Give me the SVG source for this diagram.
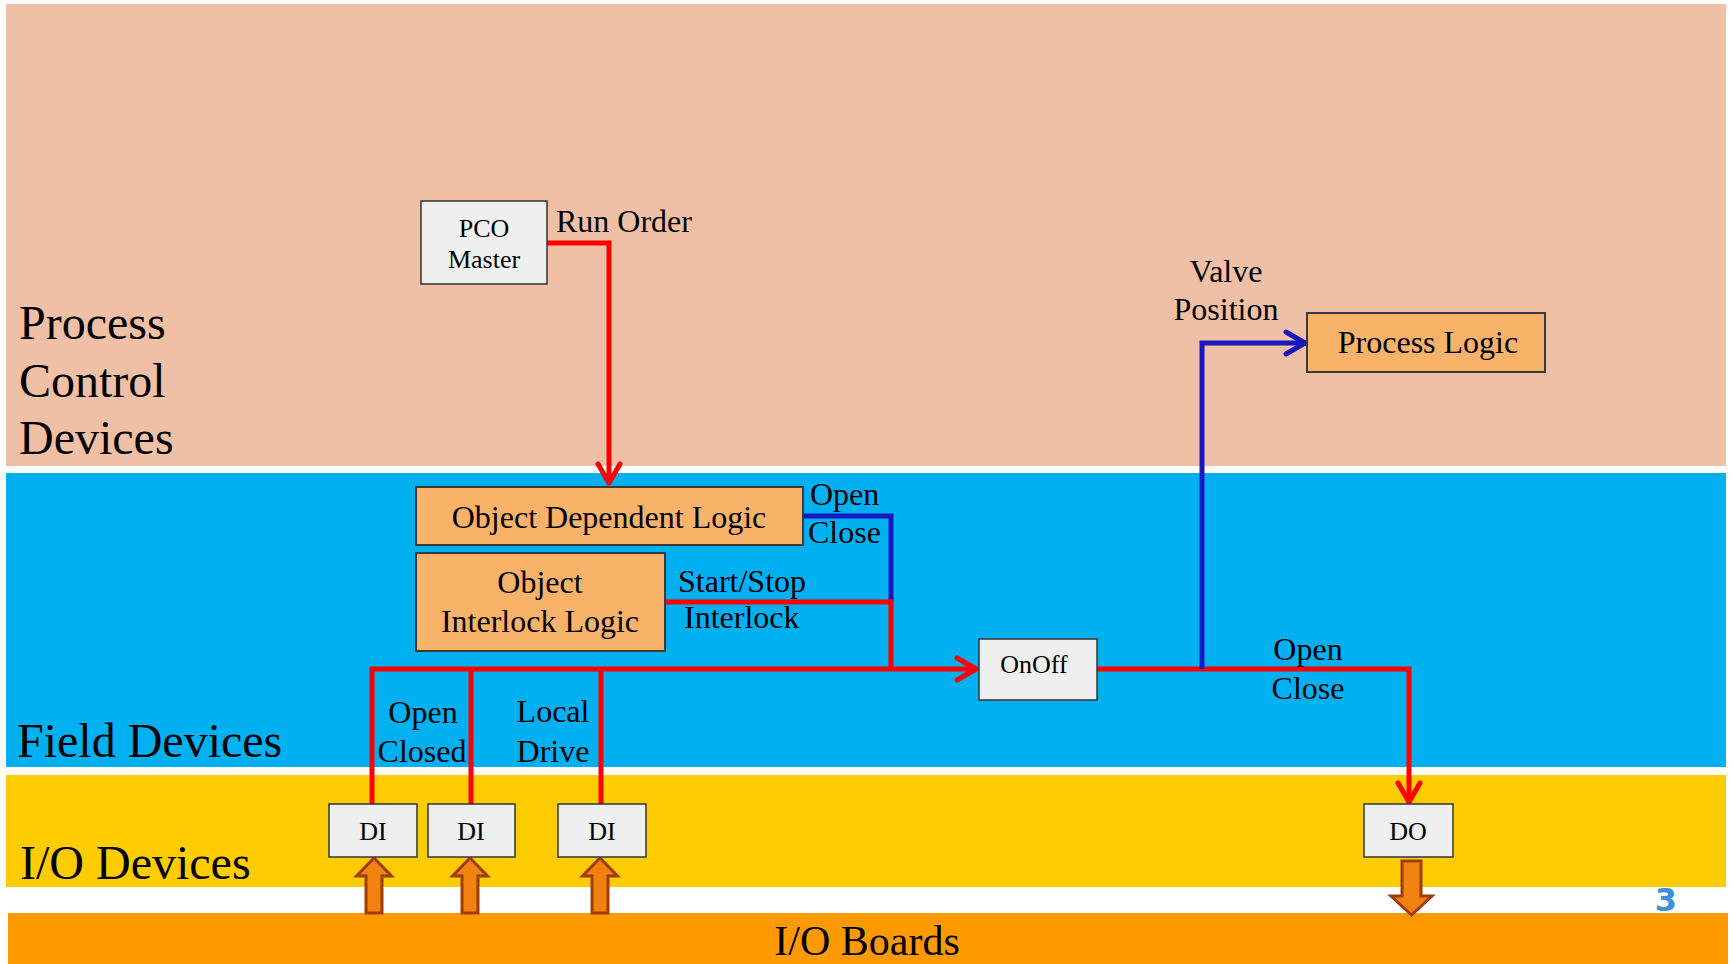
<svg xmlns="http://www.w3.org/2000/svg" width="1733" height="964" viewBox="0 0 1733 964">
<defs>
<style>
text{font-family:"Liberation Serif","Times New Roman",serif;fill:#000}
.band{stroke:none}
.gbox{fill:#efefef;stroke:#333;stroke-width:1.5}
.obox{fill:#f9b26a;stroke:#3a3a3a;stroke-width:2}
.t26{font-size:26px}
.t32{font-size:32px}
.big{font-size:48px}
.mid{text-anchor:middle}
.red{fill:none;stroke:#ff0000;stroke-width:5;stroke-linejoin:miter}
.blue{fill:none;stroke:#1818c0;stroke-width:5;stroke-linejoin:miter}
.blk{fill:#f0820f;stroke:#a03c0a;stroke-width:3}
</style>
<marker id="arR" viewBox="-24 -14 28 28" refX="0" refY="0" markerWidth="28" markerHeight="28" markerUnits="userSpaceOnUse" orient="auto">
<path d="M-20,-11 L-1,0 L-20,11" fill="none" stroke="#ff0000" stroke-width="5" stroke-linecap="round" stroke-linejoin="round"/>
</marker>
<marker id="arB" viewBox="-24 -14 28 28" refX="0" refY="0" markerWidth="28" markerHeight="28" markerUnits="userSpaceOnUse" orient="auto">
<path d="M-20,-11 L-1,0 L-20,11" fill="none" stroke="#1818c0" stroke-width="5" stroke-linecap="round" stroke-linejoin="round"/>
</marker>
</defs>
<rect width="1733" height="964" fill="#ffffff"/>
<g id="bands">
<rect class="band" x="6" y="4" width="1720" height="462" fill="#efc0a6"/>
<rect class="band" x="6" y="473" width="1720" height="294" fill="#00b0f0"/>
<rect class="band" x="6" y="775" width="1720" height="112" fill="#ffcc00"/>
<rect class="band" x="8" y="913" width="1720" height="51" fill="#ff9900"/>
<text class="big" x="19" y="339">Process</text>
<text class="big" x="19" y="397">Control</text>
<text class="big" x="19" y="454">Devices</text>
<text class="big" x="17" y="757">Field Devices</text>
<text class="big" x="20" y="879">I/O Devices</text>
<text class="mid" x="867" y="955" style="font-size:42px">I/O Boards</text>
<text x="1666" y="911" style="font-family:'DejaVu Sans',sans-serif;font-size:32px;font-weight:bold;fill:#3d8fd8;text-anchor:middle">3</text>
</g>
<g id="connectors">
<polyline class="red" points="547,243 609,243 609,484" marker-end="url(#arR)"/>
<polyline class="blue" points="803,516 891,516 891,602"/>
<polyline class="red" points="665,602 891,602 891,669"/>
<polyline class="red" points="372,804 372,669 977,669" marker-end="url(#arR)"/>
<line class="red" x1="471" y1="669" x2="471" y2="804"/>
<line class="red" x1="601" y1="669" x2="601" y2="804"/>
<polyline class="red" points="1097,669 1409,669 1409,803" marker-end="url(#arR)"/>
<polyline class="blue" points="1202,669 1202,343 1306,343" marker-end="url(#arB)"/>
<text class="t32" x="556" y="232">Run Order</text>
<text class="t32" x="810" y="505">Open</text>
<text class="t32" x="808" y="543">Close</text>
<text class="t32" x="678" y="592">Start/Stop</text>
<text class="t32" x="684" y="628">Interlock</text>
<text class="t32 mid" x="423" y="723">Open</text>
<text class="t32 mid" x="422" y="762">Closed</text>
<text class="t32 mid" x="553" y="722">Local</text>
<text class="t32 mid" x="553" y="762">Drive</text>
<text class="t32 mid" x="1226" y="282">Valve</text>
<text class="t32 mid" x="1226" y="320">Position</text>
<text class="t32 mid" x="1308" y="660">Open</text>
<text class="t32 mid" x="1308" y="699">Close</text>
<path class="blk" d="M366,913 L366,876 L356.5,876 L374,858 L391.5,876 L382,876 L382,913 Z"/>
<path class="blk" d="M462,913 L462,876 L452.5,876 L470,858 L487.5,876 L478,876 L478,913 Z"/>
<path class="blk" d="M592,913 L592,876 L582.5,876 L600,858 L617.5,876 L608,876 L608,913 Z"/>
<path class="blk" d="M1402,861 L1421,861 L1421,896 L1432,896 L1411.5,915 L1391,896 L1402,896 Z"/>
</g>
<g id="pco-master">
<rect class="gbox" x="421" y="201" width="126" height="83"/>
<text class="t26 mid" x="484" y="237">PCO</text>
<text class="t26 mid" x="484" y="268">Master</text>
</g>
<g id="process-logic">
<rect class="obox" x="1307" y="313" width="238" height="59"/>
<text class="t32 mid" x="1428" y="353">Process Logic</text>
</g>
<g id="object-dependent-logic">
<rect class="obox" x="416" y="487" width="387" height="58"/>
<text class="t32 mid" x="609" y="528">Object Dependent Logic</text>
</g>
<g id="object-interlock-logic">
<rect class="obox" x="416" y="553" width="249" height="98"/>
<text class="t32 mid" x="540" y="593">Object</text>
<text class="t32 mid" x="540" y="632">Interlock Logic</text>
</g>
<g id="onoff">
<rect class="gbox" x="979" y="639" width="118" height="61"/>
<text class="t26 mid" x="1034" y="673">OnOff</text>
</g>
<g id="di-1">
<rect class="gbox" x="329" y="804" width="88" height="53"/>
<text class="t26 mid" x="373" y="840">DI</text>
</g>
<g id="di-2">
<rect class="gbox" x="428" y="804" width="87" height="53"/>
<text class="t26 mid" x="471" y="840">DI</text>
</g>
<g id="di-3">
<rect class="gbox" x="558" y="804" width="88" height="53"/>
<text class="t26 mid" x="602" y="840">DI</text>
</g>
<g id="do">
<rect class="gbox" x="1364" y="804" width="89" height="53"/>
<text class="t26 mid" x="1408" y="840">DO</text>
</g>
</svg>
